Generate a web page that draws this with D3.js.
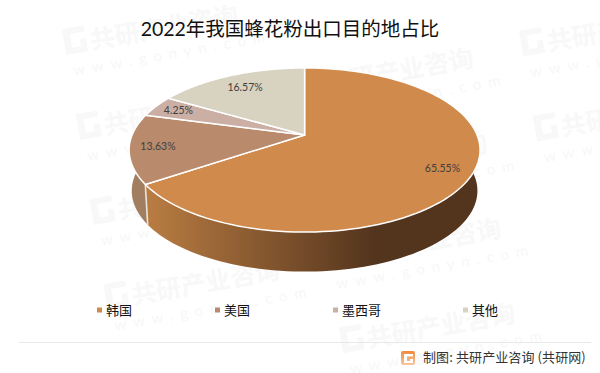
<!DOCTYPE html>
<html><head><meta charset="utf-8">
<script src="https://cdn.jsdelivr.net/npm/d3@7/dist/d3.min.js"></script>
<style>html,body{margin:0;padding:0;background:#fff}svg{display:block}</style>
</head><body><div id="chart"></div>
<script>
const titleText = "2022年我国蜂花粉出口目的地占比";
const categories = ["韩国","美国","墨西哥","其他"];
const values = [65.55,13.63,4.25,16.57];
const topColors = ["#d08a4b","#b98a6b","#cbafa5","#d8d3c0"];
const sourceText = "制图: 共研产业咨询 (共研网)";
const wmName = "共研产业咨询";
const wmUrl = "www.gonyn.com";
const labelRadius = [0.84,0.84,0.84,0.78];

const W=600,H=373;
const svg=d3.select("#chart").append("svg").attr("width",W).attr("height",H);
const font='Lato,"Noto Sans CJK SC",sans-serif';
const defs=svg.append("defs");

// watermark lattice: only the stamps that start on the canvas
const wm=svg.append("g");
d3.range(-2,4).forEach(i=>d3.range(-1,5).forEach(j=>{
  const x=65+i*235.4+j*13.8, y=47+i*43.3+j*85;
  if(x<0||x>W-60||y<20||y>H-10)return;
  const g=wm.append("g").attr("transform",`translate(${x},${y}) rotate(-10)`);
  g.append("path").attr("d","M0,-18H22V-12H7V2H16V-5H22V8H0Z").attr("fill","#f8f8f8");
  g.append("text").attr("x",26).attr("y",7).attr("font-family",font).attr("font-weight",700)
    .attr("font-size",25).attr("fill","#f8f8f8").text(wmName);
  g.append("text").attr("x",4).attr("y",30).attr("font-family",font)
    .attr("font-size",15).attr("letter-spacing",7).attr("fill","#f7f7f7").text(wmUrl);
}));

// tilted-disc projection
const C={x:304.6,y:135,A:172.5,B:79.3,p:0.183,depth:41,shrink:0.985};
function project(a,r,z){
  const s=z?C.shrink:1, u=Math.sin(a)*r, v=Math.cos(a)*r, d=1+C.p*v;
  return [C.x+s*C.A*u/d, C.y+(z?C.depth:0)-s*C.B*v/d];
}
const pie=d3.pie().sort(null).value(d=>d);
const arcs=pie(values);
const line=d3.line();
const samples=(a0,a1)=>d3.range(0,121).map(i=>a0+(a1-a0)*i/120);

const grad=defs.append("linearGradient").attr("id","sideGrad").attr("gradientUnits","userSpaceOnUse")
  .attr("x1",148).attr("x2",375).attr("y1",0).attr("y2",0);
grad.append("stop").attr("offset",0).attr("stop-color","#b97c42");
grad.append("stop").attr("offset",1).attr("stop-color","#53341d");

const chart=svg.append("g");
const sideFill=["url(#sideGrad)","#a27e60",null,null];
arcs.forEach((d,i)=>{
  if(!sideFill[i])return;
  const t=samples(d.startAngle,d.endAngle);
  const pts=t.map(a=>project(a,1,false)).concat(t.slice().reverse().map(a=>project(a,1,true)));
  chart.append("path").attr("d",line(pts)+"Z").attr("fill",sideFill[i]);
});
chart.append("path").attr("d",line([project(arcs[0].endAngle,1,false),project(arcs[0].endAngle,1,true)]))
  .attr("stroke","#e8e4e0").attr("stroke-width",1.6).attr("fill","none");
arcs.forEach((d,i)=>{
  const pts=[[C.x,C.y]].concat(samples(d.startAngle,d.endAngle).map(a=>project(a,1,false)));
  chart.append("path").attr("d",line(pts)+"Z").attr("fill",topColors[i])
    .attr("stroke","#fff").attr("stroke-width",1.5).attr("stroke-linejoin","round");
});
arcs.forEach((d,i)=>{
  const p=project((d.startAngle+d.endAngle)/2,labelRadius[i],false);
  chart.append("text").attr("x",p[0]).attr("y",p[1]).attr("dy","0.35em").attr("text-anchor","middle")
    .attr("font-family",font).attr("font-size",10.5).attr("fill","#404040").text(d.value.toFixed(2)+"%");
});

svg.append("text").attr("x",290).attr("y",36).attr("text-anchor","middle")
  .attr("font-family",font).attr("font-size",19.5).attr("fill","#111").text(titleText);

const legendX=d3.scaleOrdinal().domain(categories).range([97,215,333,463]);
const lg=svg.append("g").selectAll("g").data(categories).join("g")
  .attr("transform",d=>`translate(${legendX(d)},310)`);
lg.append("rect").attr("x",0).attr("y",-2.5).attr("width",5).attr("height",5).attr("fill",(d,i)=>topColors[i]);
lg.append("text").attr("x",9).attr("y",0).attr("dy","0.36em").attr("font-family",font)
  .attr("font-size",13).attr("fill","#111").text(d=>d);

svg.append("line").attr("x1",19).attr("x2",591).attr("y1",342.5).attr("y2",342.5).attr("stroke","#e8e8e8");
const lgd=defs.append("linearGradient").attr("id","logoGrad").attr("x1",0).attr("x2",0).attr("y1",0).attr("y2",1);
lgd.append("stop").attr("offset",0).attr("stop-color","#f08a3c");
lgd.append("stop").attr("offset",1).attr("stop-color","#f9c79a");
const logo=svg.append("g").attr("transform","translate(401,351)");
logo.append("rect").attr("width",14).attr("height",14).attr("rx",2).attr("fill","url(#logoGrad)");
logo.append("path").attr("d","M3,3H12V5.5H6V10H9V8H12V12H3Z").attr("fill","#fff");
svg.append("text").attr("x",423).attr("y",357).attr("dy","0.36em").attr("font-family",'"Noto Sans CJK SC",sans-serif')
  .attr("font-size",13).attr("letter-spacing",0.1).attr("fill","#333").text(sourceText);
</script></body></html>
